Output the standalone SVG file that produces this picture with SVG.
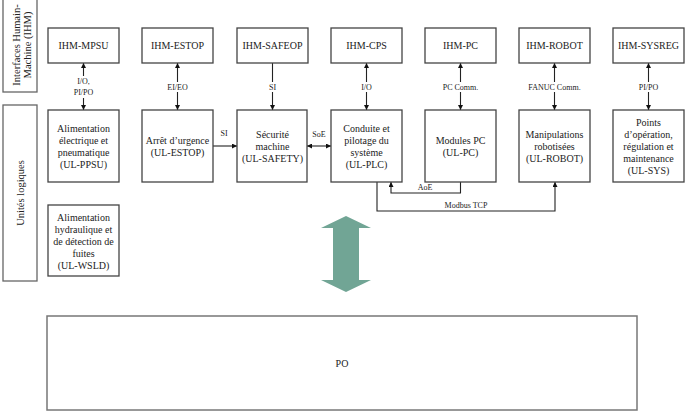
<svg xmlns="http://www.w3.org/2000/svg" width="693" height="418" viewBox="0 0 693 418">
<defs>
<marker id="ah" viewBox="0 0 10 10" refX="10" refY="5" markerWidth="5" markerHeight="5" orient="auto-start-reverse" markerUnits="userSpaceOnUse"><path d="M0,0 L10,5 L0,10 Z" fill="#111"/></marker>
<style>
.box{fill:#fff;stroke:#444;stroke-width:1.3}
.side{fill:#fff;stroke:#666;stroke-width:1.3}
.t{font-family:"Liberation Serif","Times New Roman",serif;font-size:10px;fill:#222;text-anchor:middle;dominant-baseline:central}
.s{font-family:"Liberation Serif","Times New Roman",serif;font-size:8px;fill:#222;text-anchor:middle;dominant-baseline:central}
.c{fill:none;stroke:#222;stroke-width:1.1}
.bg{fill:#fff}
</style>
</defs>
<rect width="693" height="418" fill="#fff"/>

<g id="label-ihm">
<rect class="side" x="3" y="-2" width="34" height="94"/>
<text class="t" style="font-size:10.5px" transform="translate(16,45) rotate(-90)">Interfaces Humain-</text>
<text class="t" style="font-size:10.5px" transform="translate(27,45) rotate(-90)">Machine (IHM)</text>
</g>
<g id="label-ul">
<rect class="side" x="3" y="105" width="34" height="176"/>
<text class="t" style="font-size:10.5px" transform="translate(20,193) rotate(-90)">Unités logiques</text>
</g>

<g id="connectors">
<line class="c" x1="83.5" y1="63" x2="83.5" y2="110" marker-start="url(#ah)" marker-end="url(#ah)"/>
<rect class="bg" x="70" y="76" width="27" height="22"/>
<text class="s" x="83.5" y="81">I/O,</text>
<text class="s" x="83.5" y="92">PI/PO</text>

<line class="c" x1="177.5" y1="63" x2="177.5" y2="110" marker-start="url(#ah)" marker-end="url(#ah)"/>
<rect class="bg" x="165" y="82" width="25" height="10"/>
<text class="s" x="177.5" y="87">EI/EO</text>

<line class="c" x1="272.5" y1="63" x2="272.5" y2="110" marker-end="url(#ah)"/>
<rect class="bg" x="266" y="82" width="13" height="10"/>
<text class="s" x="272.5" y="87">SI</text>

<line class="c" x1="366.5" y1="63" x2="366.5" y2="110" marker-start="url(#ah)" marker-end="url(#ah)"/>
<rect class="bg" x="360" y="82" width="13" height="10"/>
<text class="s" x="366.5" y="87">I/O</text>

<line class="c" x1="460.5" y1="63" x2="460.5" y2="110" marker-start="url(#ah)" marker-end="url(#ah)"/>
<rect class="bg" x="441" y="82" width="39" height="10"/>
<text class="s" x="460.5" y="87">PC Comm.</text>

<line class="c" x1="554.5" y1="63" x2="554.5" y2="110" marker-start="url(#ah)" marker-end="url(#ah)"/>
<rect class="bg" x="528" y="82" width="53" height="10"/>
<text class="s" x="554.5" y="87">FANUC Comm.</text>

<line class="c" x1="648.5" y1="63" x2="648.5" y2="110" marker-start="url(#ah)" marker-end="url(#ah)"/>
<rect class="bg" x="638" y="82" width="21" height="10"/>
<text class="s" x="648.5" y="87">PI/PO</text>

<line class="c" x1="213" y1="146" x2="237" y2="146" marker-end="url(#ah)"/>
<text class="s" x="224" y="133">SI</text>

<line class="c" x1="307" y1="146" x2="331" y2="146" marker-start="url(#ah)" marker-end="url(#ah)"/>
<text class="s" x="319" y="134">SoE</text>

<path class="c" d="M460.5,182 V193 H391 V182" marker-end="url(#ah)"/>
<text class="s" x="425" y="187">AoE</text>

<path class="c" d="M377,182 V211 H555 V182" marker-end="url(#ah)"/>
<text class="s" x="466" y="205">Modbus TCP</text>
</g>

<g id="ihm-mpsu"><rect class="box" x="48" y="28" width="71" height="35"/><text class="t" x="83.5" y="45.5">IHM-MPSU</text></g>
<g id="ihm-estop"><rect class="box" x="142" y="28" width="71" height="35"/><text class="t" x="177.5" y="45.5">IHM-ESTOP</text></g>
<g id="ihm-safeop"><rect class="box" x="237" y="28" width="71" height="35"/><text class="t" x="272.5" y="45.5">IHM-SAFEOP</text></g>
<g id="ihm-cps"><rect class="box" x="331" y="28" width="71" height="35"/><text class="t" x="366.5" y="45.5">IHM-CPS</text></g>
<g id="ihm-pc"><rect class="box" x="425" y="28" width="71" height="35"/><text class="t" x="460.5" y="45.5">IHM-PC</text></g>
<g id="ihm-robot"><rect class="box" x="519" y="28" width="71" height="35"/><text class="t" x="554.5" y="45.5">IHM-ROBOT</text></g>
<g id="ihm-sysreg"><rect class="box" x="613" y="28" width="71" height="35"/><text class="t" x="648.5" y="45.5">IHM-SYSREG</text></g>

<g id="ul-ppsu"><rect class="box" x="48" y="110" width="71" height="72"/>
<text class="t" x="83.5" y="128">Alimentation</text><text class="t" x="83.5" y="140">électrique et</text><text class="t" x="83.5" y="152">pneumatique</text><text class="t" x="83.5" y="164">(UL-PPSU)</text></g>
<g id="ul-estop"><rect class="box" x="142" y="110" width="71" height="72"/>
<text class="t" x="177.5" y="140">Arrêt d’urgence</text><text class="t" x="177.5" y="152">(UL-ESTOP)</text></g>
<g id="ul-safety"><rect class="box" x="237" y="110" width="70" height="72"/>
<text class="t" x="272.5" y="134">Sécurité</text><text class="t" x="272.5" y="146">machine</text><text class="t" x="272.5" y="158">(UL-SAFETY)</text></g>
<g id="ul-plc"><rect class="box" x="331" y="110" width="71" height="72"/>
<text class="t" x="366.5" y="128">Conduite et</text><text class="t" x="366.5" y="140">pilotage du</text><text class="t" x="366.5" y="152">système</text><text class="t" x="366.5" y="164">(UL-PLC)</text></g>
<g id="ul-pc"><rect class="box" x="425" y="110" width="71" height="72"/>
<text class="t" x="460.5" y="140">Modules PC</text><text class="t" x="460.5" y="152">(UL-PC)</text></g>
<g id="ul-robot"><rect class="box" x="519" y="110" width="71" height="72"/>
<text class="t" x="554.5" y="134">Manipulations</text><text class="t" x="554.5" y="146">robotisées</text><text class="t" x="554.5" y="158">(UL-ROBOT)</text></g>
<g id="ul-sys"><rect class="box" x="613" y="110" width="71" height="72"/>
<text class="t" x="648.5" y="122">Points</text><text class="t" x="648.5" y="134">d’opération,</text><text class="t" x="648.5" y="146">régulation et</text><text class="t" x="648.5" y="158">maintenance</text><text class="t" x="648.5" y="170">(UL-SYS)</text></g>
<g id="ul-wsld"><rect class="box" x="48" y="205" width="71" height="71"/>
<text class="t" x="83.5" y="217">Alimentation</text><text class="t" x="83.5" y="229">hydraulique et</text><text class="t" x="83.5" y="241">de détection de</text><text class="t" x="83.5" y="253">fuites</text><text class="t" x="83.5" y="265">(UL-WSLD)</text></g>

<g id="big-arrow"><path d="M346,216 L371,228 L359,228 L359,280 L371,280 L346,292 L321,280 L333,280 L333,228 L321,228 Z" fill="#71a595"/></g>

<g id="po"><rect x="47" y="316" width="590" height="94" fill="#fff" stroke="#777" stroke-width="1.5"/>
<text class="t" x="342" y="363">PO</text></g>
</svg>
